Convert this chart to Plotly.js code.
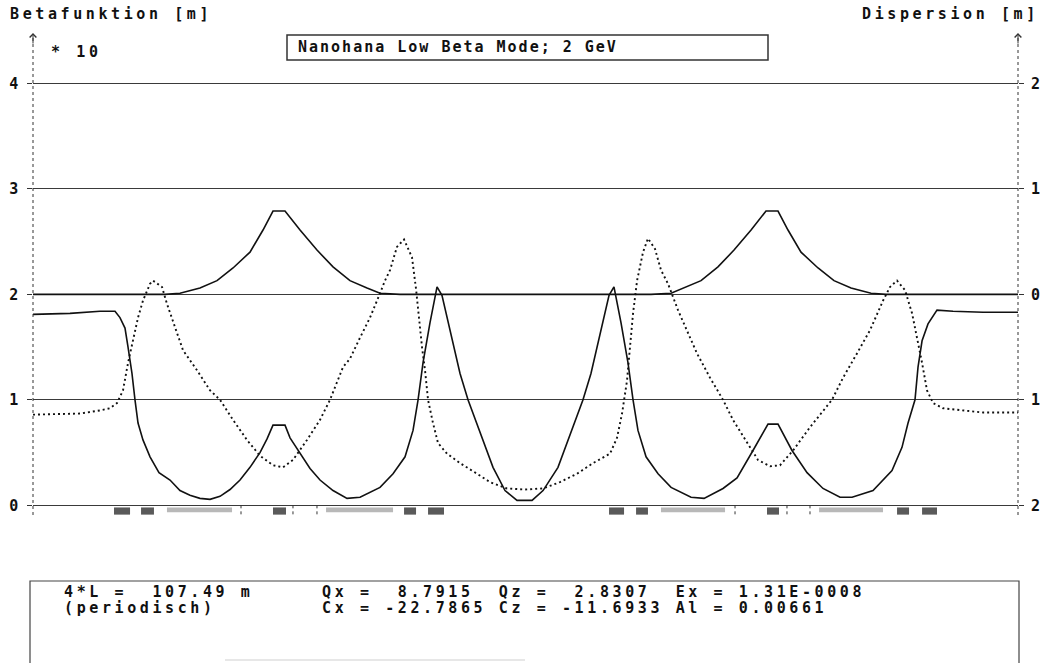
<!DOCTYPE html>
<html><head><meta charset="utf-8">
<script src="https://cdn.plot.ly/plotly-3.0.1.min.js"></script>
<style>
html,body{margin:0;padding:0;background:#fff;}
text{letter-spacing:3.6px;}
#chart .annotation[data-index="3"] text{letter-spacing:2px;}
</style></head>
<body><div id="chart" style="width:1051px;height:663px;"></div>
<script>
// ---- data (s in metres along the 4-cell ring) ----
const ringLength = 107.49;
// horizontal beta function (solid), in units of 10 m
const sBetaX = [0, 4.04, 7.31, 8.95, 9.49, 10.04, 10.37, 10.80, 11.13, 11.46, 12.00, 12.77, 13.75, 14.95, 16.04, 17.13, 18.22, 19.32, 20.41, 21.50, 22.59, 23.68, 24.77, 25.54, 26.19, 27.50, 28.05, 29.14, 30.23, 31.32, 32.74, 34.27, 35.69, 37.87, 39.29, 40.60, 41.47, 42.02, 42.56, 43.32, 44.09, 44.63, 45.51, 46.60, 47.47, 48.78, 50.20, 51.51, 52.82, 54.46, 55.66, 57.29, 58.71, 60.02, 60.89, 61.99, 62.86, 63.40, 64.17, 64.93, 65.48, 66.02, 66.90, 68.21, 69.63, 71.81, 73.23, 75.30, 76.83, 78.57, 80.21, 81.30, 82.83, 84.47, 86.21, 88.07, 89.38, 91.67, 93.74, 94.83, 95.49, 96.25, 96.58, 97.02, 97.67, 98.65, 100.40, 103.67, 107.49];
const betaX = [1.81, 1.82, 1.84, 1.84, 1.78, 1.68, 1.50, 1.25, 1.00, 0.78, 0.62, 0.46, 0.31, 0.24, 0.14, 0.095, 0.066, 0.057, 0.085, 0.15, 0.24, 0.36, 0.50, 0.63, 0.76, 0.76, 0.64, 0.49, 0.35, 0.24, 0.14, 0.066, 0.076, 0.17, 0.30, 0.46, 0.71, 1.00, 1.35, 1.73, 2.07, 1.99, 1.66, 1.25, 1.00, 0.69, 0.36, 0.14, 0.047, 0.047, 0.14, 0.36, 0.69, 1.00, 1.25, 1.66, 1.99, 2.07, 1.73, 1.35, 1.00, 0.71, 0.46, 0.30, 0.17, 0.076, 0.066, 0.16, 0.26, 0.52, 0.77, 0.77, 0.52, 0.31, 0.16, 0.076, 0.076, 0.14, 0.33, 0.55, 0.78, 1.00, 1.31, 1.56, 1.72, 1.85, 1.84, 1.83, 1.83];
// vertical beta function (dotted), in units of 10 m
const sBetaZ = [0, 5.13, 7.31, 8.40, 9.17, 9.82, 10.37, 10.91, 11.46, 12.00, 12.77, 13.10, 14.08, 14.62, 15.50, 16.37, 17.90, 19.32, 20.41, 21.83, 23.35, 24.77, 26.19, 27.28, 28.37, 29.90, 31.32, 32.41, 33.83, 34.59, 35.69, 36.78, 37.87, 38.41, 38.96, 39.72, 40.49, 41.36, 41.80, 42.12, 42.45, 42.78, 43.11, 43.65, 44.20, 45.18, 46.60, 48.45, 49.87, 51.73, 53.69, 55.66, 57.51, 59.37, 61.11, 62.97, 63.73, 64.28, 64.82, 65.15, 65.48, 65.92, 66.57, 67.11, 67.88, 68.53, 69.30, 70.39, 71.37, 72.46, 73.88, 75.30, 76.39, 77.92, 79.12, 80.43, 81.52, 82.94, 84.79, 87.19, 88.40, 89.92, 91.34, 92.76, 93.52, 94.29, 95.16, 95.93, 96.47, 97.02, 97.56, 98.22, 99.31, 101.49, 103.67, 107.49];
const betaZ = [0.86, 0.87, 0.90, 0.92, 0.97, 1.09, 1.35, 1.56, 1.78, 1.94, 2.10, 2.13, 2.07, 1.91, 1.69, 1.47, 1.28, 1.09, 1.00, 0.81, 0.62, 0.47, 0.38, 0.36, 0.43, 0.62, 0.81, 1.00, 1.31, 1.39, 1.59, 1.78, 2.01, 2.13, 2.23, 2.45, 2.52, 2.35, 2.05, 1.75, 1.50, 1.28, 1.00, 0.78, 0.59, 0.49, 0.40, 0.30, 0.22, 0.16, 0.15, 0.16, 0.22, 0.30, 0.40, 0.49, 0.64, 0.87, 1.18, 1.50, 1.82, 2.13, 2.40, 2.53, 2.43, 2.23, 2.10, 1.85, 1.66, 1.44, 1.21, 1.00, 0.81, 0.59, 0.43, 0.37, 0.38, 0.52, 0.74, 1.00, 1.21, 1.44, 1.66, 1.94, 2.07, 2.13, 2.04, 1.82, 1.59, 1.35, 1.09, 0.97, 0.92, 0.90, 0.88, 0.88];
// dispersion (solid, right axis), metres
const sDisp = [0, 14.41, 16.04, 18.22, 20.08, 21.83, 23.68, 25.10, 26.19, 27.50, 29.14, 30.99, 32.74, 34.59, 36.45, 37.87, 40.05, 67.44, 69.63, 71.04, 72.90, 74.75, 76.50, 78.36, 79.99, 81.30, 82.39, 83.81, 85.67, 87.41, 89.27, 91.45, 93.09, 107.49];
const disp = [0, 0, 0.01, 0.06, 0.13, 0.25, 0.40, 0.61, 0.79, 0.79, 0.61, 0.42, 0.26, 0.13, 0.06, 0.01, 0, 0, 0.01, 0.06, 0.13, 0.26, 0.42, 0.61, 0.79, 0.79, 0.61, 0.40, 0.25, 0.13, 0.06, 0.01, 0, 0];
// lattice elements
const quadStart = [8.84, 11.79, 26.19, 40.49, 43.11, 62.86, 65.81, 80.10, 94.29, 97.02];
const quadEnd   = [10.59, 13.20, 27.61, 41.80, 44.85, 64.50, 67.11, 81.41, 95.60, 98.65];
const dipoleStart = [14.62, 31.98, 68.53, 85.78];
const dipoleEnd   = [21.72, 39.29, 75.52, 92.76];
const markerPos = [22.70, 28.37, 30.99, 76.61, 82.28, 84.79];
// ticks & texts
const betaTicks = [0, 1, 2, 3, 4];
const betaTickText = ['0', '1', '2', '3', '4'];
const dispTicks = [-2, -1, 0, 1, 2];
const dispTickText = ['2', '1', '0', '1', '2'];
const leftAxisTitle = 'Betafunktion [m]';
const rightAxisTitle = 'Dispersion [m]';
const scaleNote = '* 10';
const chartTitle = 'Nanohana Low Beta Mode; 2 GeV';
const infoLeft = ['4*L =  107.49 m', '(periodisch)'];
const infoRight = ['Qx =  8.7915  Qz =  2.8307  Ex = 1.31E-0008', 'Cx = -22.7865 Cz = -11.6933 Al = 0.00661'];

// ---- layout helpers ----
const M = {l: 33, r: 33, t: 38, b: 145};
const PW = 1051 - M.l - M.r, PH = 663 - M.t - M.b;
const px = x => (x - M.l) / PW;
const py = y => (663 - M.b - y) / PH;
const nb = s => s.replace(/ /g, '\u00a0');
const FONT = {family: 'DejaVu Sans Mono', size: 15, color: '#111', weight: 'bold'};

const traces = [
  {x: sBetaX, y: betaX, type: 'scatter', mode: 'lines', yaxis: 'y', line: {color: '#111', width: 1.6}, hoverinfo: 'skip'},
  {x: sBetaZ, y: betaZ, type: 'scatter', mode: 'lines', yaxis: 'y', line: {color: '#111', width: 1.9, dash: '2px,3px'}, hoverinfo: 'skip'},
  {x: sDisp, y: disp, type: 'scatter', mode: 'lines', yaxis: 'y2', line: {color: '#111', width: 1.6}, hoverinfo: 'skip'}
];

const shapes = [];
quadStart.forEach((s, i) => shapes.push({type: 'rect', xref: 'x', yref: 'y', x0: s, x1: quadEnd[i], y0: -0.02, y1: -0.088, fillcolor: '#5a5a5a', line: {width: 0}}));
dipoleStart.forEach((s, i) => shapes.push({type: 'rect', xref: 'x', yref: 'y', x0: s, x1: dipoleEnd[i], y0: -0.02, y1: -0.066, fillcolor: '#b8b8b8', line: {width: 0}}));
markerPos.forEach(s => shapes.push({type: 'line', xref: 'x', yref: 'y', x0: s, x1: s, y0: 0, y1: -0.095, line: {color: '#333', width: 1, dash: 'dot'}}));
// vertical axes (dotted)
[0, 1].forEach(xp => shapes.push({type: 'line', xref: 'paper', yref: 'paper', x0: xp, x1: xp, y0: py(515), y1: py(34), line: {color: '#333', width: 1, dash: 'dot'}}));
// title box
shapes.push({type: 'rect', xref: 'paper', yref: 'paper', x0: px(287), x1: px(768), y0: py(35), y1: py(60), line: {color: '#333', width: 1.5}, fillcolor: 'rgba(0,0,0,0)'});
// info box
shapes.push({type: 'rect', xref: 'paper', yref: 'paper', x0: px(30), x1: px(1019), y0: py(581), y1: py(720), line: {color: '#444', width: 1.2}, fillcolor: 'rgba(0,0,0,0)'});
// faint scan line at bottom
shapes.push({type: 'line', xref: 'paper', yref: 'paper', x0: px(225), x1: px(525), y0: py(660), y1: py(660), line: {color: '#cfcfcf', width: 1}});

const ann = (text, x, y, extra) => Object.assign({text: nb(text), xref: 'paper', yref: 'paper', x: px(x), y: py(y), xanchor: 'left', yanchor: 'middle', align: 'left', borderpad: 0, showarrow: false, font: FONT}, extra || {});
const annotations = [
  ann(leftAxisTitle, 9, 14),
  ann(rightAxisTitle, 861, 14),
  ann(scaleNote, 50, 52),
  ann(chartTitle, 297, 47),
  ann(infoLeft[0], 63, 592),
  ann(infoLeft[1], 63, 608),
  ann(infoRight[0], 321, 592),
  ann(infoRight[1], 321, 608),
  {text: '', xref: 'paper', yref: 'paper', x: 0, y: py(33), ax: 0, ay: 12, showarrow: true, arrowhead: 4, arrowsize: 1.3, arrowwidth: 1, arrowcolor: '#333'},
  {text: '', xref: 'paper', yref: 'paper', x: 1, y: py(33), ax: 0, ay: 12, showarrow: true, arrowhead: 4, arrowsize: 1.3, arrowwidth: 1, arrowcolor: '#333'}
];

const layout = {
  width: 1051, height: 663,
  margin: M,
  paper_bgcolor: '#fff', plot_bgcolor: '#fff',
  showlegend: false,
  font: FONT,
  xaxis: {range: [0, ringLength], showgrid: false, zeroline: false, showline: false, showticklabels: false, ticks: ''},
  yaxis: {range: [-0.12, 4.43], tickmode: 'array', tickvals: betaTicks, ticktext: betaTickText, ticks: 'outside', ticklen: 5, tickcolor: '#333', showgrid: true, gridcolor: '#3a3a3a', gridwidth: 1, zeroline: false, showline: false, tickfont: FONT, ticklabelstandoff: 2},
  yaxis2: {range: [-2.12, 2.43], overlaying: 'y', side: 'right', tickmode: 'array', tickvals: dispTicks, ticktext: dispTickText, ticks: 'outside', ticklen: 5, tickcolor: '#333', showgrid: false, zeroline: false, showline: false, tickfont: FONT, ticklabelstandoff: 4},
  shapes: shapes,
  annotations: annotations
};

Plotly.newPlot('chart', traces, layout, {staticPlot: true, displayModeBar: false});
</script></body></html>
